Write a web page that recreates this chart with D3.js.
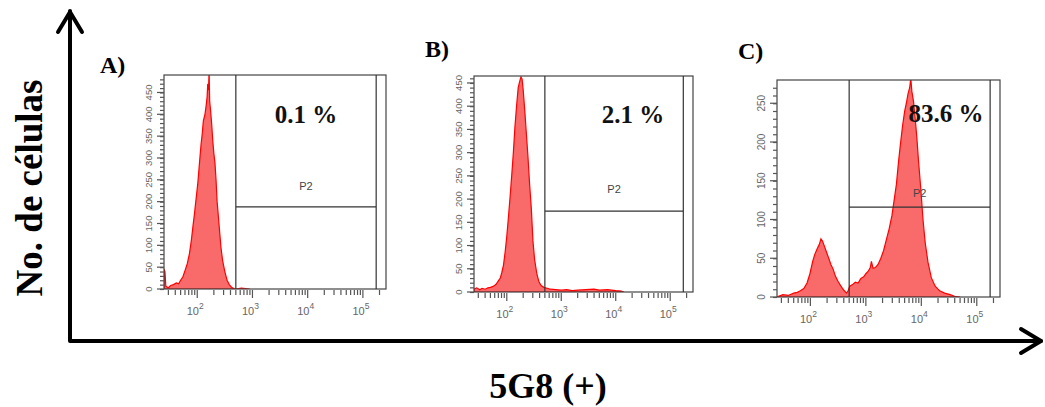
<!DOCTYPE html>
<html>
<head>
<meta charset="utf-8">
<script src="https://cdn.jsdelivr.net/npm/d3@7"></script>
<style>
	body { margin: 0; background: #fff; }
	svg { display: block; }
</style>
</head>
<body>
<div id="vizHolder"></div>
<script>

var	width = 1045,
		height = 407;

/* ----------- data ----------- */
var panelNames = ['A)', 'B)', 'C)'];
var percents   = ['0.1 %', '2.1 %', '83.6 %'];
var gateName   = 'P2';
var gateRange  = [500, 174000];          // P2 interval gate, fluorescence
var gateLevel  = [188, 174, 116];        // counts where the gate bar sits
var yMax       = [490, 465, 280];
var yLabelsAB  = [0, 50, 100, 150, 200, 250, 300, 350, 400, 450];
var yLabelsC   = [0, 50, 100, 150, 200, 250];
var xDomain    = [25, 262144];
var xDecades   = [100, 1000, 10000, 100000];

var intensityA = [25, 26, 27, 30, 33, 37, 42, 46, 50, 55, 60, 66, 72, 78, 83, 89, 95, 102, 110, 117,
	123, 129, 138, 145, 151, 155, 160, 164, 168, 174, 182, 191, 200, 209, 219, 229, 240, 251, 269, 288,
	316, 347, 380, 417, 457, 501, 631, 891];
var countsA    = [46, 40, 6, 3, 8, 10, 14, 12, 20, 28, 42, 58, 80, 110, 140, 172, 205, 240, 290, 330,
	355, 385, 400, 420, 440, 470, 455, 500, 430, 410, 380, 340, 310, 290, 250, 200, 170, 140, 95, 65,
	40, 20, 10, 4, 1, 0, 2, 0];

var intensityB = [25, 28, 32, 35, 40, 45, 50, 56, 63, 71, 76, 81, 87, 93, 100, 107, 115, 123, 132, 141,
	151, 162, 174, 182, 191, 200, 214, 229, 245, 263, 282, 302, 324, 355, 389, 427, 479, 550, 631, 794,
	1000, 1259, 1585, 1995, 2818, 3981, 5012, 7079, 10000, 12589, 14125];
var countsB    = [6, 9, 5, 8, 6, 9, 10, 12, 16, 25, 30, 42, 58, 85, 120, 160, 205, 250, 300, 355,
	400, 440, 455, 463, 458, 435, 390, 340, 290, 230, 180, 110, 70, 40, 22, 14, 10, 8, 6, 5,
	4, 5, 3, 4, 5, 6, 4, 5, 3, 2, 0];

var intensityC = [25, 32, 40, 50, 58, 66, 76, 87, 98, 110, 120, 132, 145, 155, 166, 178, 195, 214, 234, 257,
	282, 316, 355, 398, 447, 479, 513, 575, 646, 724, 813, 912, 1000, 1096, 1202, 1259, 1349, 1479, 1660, 1862,
	2089, 2344, 2630, 2951, 3236, 3548, 3890, 4169, 4571, 5012, 5370, 5754, 6166, 6457, 6761, 7244, 7762, 8318, 8913, 9772,
	10715, 11749, 13183, 15136, 17783, 21380, 26303, 33113, 39811, 50119];
var countsC    = [0, 3, 2, 5, 6, 8, 11, 18, 30, 46, 55, 62, 68, 75, 72, 66, 58, 50, 42, 36,
	27, 20, 14, 9, 5, 8, 14, 16, 19, 18, 24, 26, 30, 33, 38, 46, 37, 38, 42, 50,
	60, 74, 88, 105, 125, 145, 175, 195, 220, 240, 250, 262, 270, 282, 265, 252, 230, 205, 175, 140,
	100, 70, 45, 25, 14, 8, 5, 3, 1, 0];

/* ----------- layout ----------- */
var frames = [
	{x0: 164, x1: 386, y0: 75, y1: 289},
	{x0: 474, x1: 693, y0: 76, y1: 292},
	{x0: 777, x1: 1000, y0: 80, y1: 297}
];
var letterPos = [[100, 73], [425, 57], [738, 59]];
var pctPos    = [[306, 123], [633, 123], [946, 122]];
var p2Offset  = [17, 18, 10];

var panels = [
	{x: intensityA, y: countsA, yLabels: yLabelsAB},
	{x: intensityB, y: countsB, yLabels: yLabelsAB},
	{x: intensityC, y: countsC, yLabels: yLabelsC}
];

var svg = d3.select('#vizHolder')
				.append('svg')
				.attr('width', width)
				.attr('height', height);

var serif = '"Liberation Serif", "Times New Roman", serif',
		sans  = '"Liberation Sans", Arial, sans-serif';

/* ----------- big arrows ----------- */
var arrows = svg.append('g')
				.attr('fill', 'none')
				.attr('stroke', '#000')
				.attr('stroke-width', 4)
				.attr('stroke-linejoin', 'round')
				.attr('stroke-linecap', 'round');

arrows.append('path').attr('d', 'M70,11 L70,341 L1041,341');
arrows.append('path').attr('d', 'M58,32 L70,12 L82,32');
arrows.append('path').attr('d', 'M1021,329 L1041,341 L1021,353');

svg.append('text')
		.attr('transform', 'translate(42,188) rotate(-90)')
		.attr('text-anchor', 'middle')
		.attr('font-family', serif)
		.attr('font-weight', 'bold')
		.attr('font-size', 37)
		.text('No. de células');

svg.append('text')
		.attr('x', 548)
		.attr('y', 398)
		.attr('text-anchor', 'middle')
		.attr('font-family', serif)
		.attr('font-weight', 'bold')
		.attr('font-size', 36)
		.text('5G8 (+)');

/* ----------- panels ----------- */
panels.forEach(function(p, i){
	var f = frames[i];

	var x = d3.scaleLog().domain(xDomain).range([f.x0, f.x1]);
	var y = d3.scaleLinear().domain([0, yMax[i]]).range([f.y1, f.y0]);

	var g = svg.append('g').attr('class', 'panel');

	g.append('clipPath')
			.attr('id', 'clip' + i)
			.append('rect')
			.attr('x', f.x0)
			.attr('y', f.y0)
			.attr('width', f.x1 - f.x0)
			.attr('height', f.y1 - f.y0);

	var pts = p.x.map(function(d, k){ return [d, p.y[k]]; });

	var area = d3.area()
			.x(function(d){ return x(d[0]); })
			.y0(y(0))
			.y1(function(d){ return y(d[1]); });

	g.append('path')
			.datum(pts)
			.attr('clip-path', 'url(#clip' + i + ')')
			.attr('fill', '#f96a6a')
			.attr('stroke', '#ff0000')
			.attr('stroke-width', 1.2)
			.attr('d', area);

	// frame
	g.append('rect')
			.attr('x', f.x0)
			.attr('y', f.y0)
			.attr('width', f.x1 - f.x0)
			.attr('height', f.y1 - f.y0)
			.attr('fill', 'none')
			.attr('stroke', '#444')
			.attr('stroke-width', 1.2);

	// gate
	var gx0 = x(gateRange[0]), gx1 = x(gateRange[1]), gy = y(gateLevel[i]);
	g.append('path')
			.attr('d', 'M' + gx0 + ',' + f.y0 + 'V' + f.y1 + 'M' + gx1 + ',' + f.y0 + 'V' + f.y1 +
				'M' + gx0 + ',' + gy + 'H' + gx1)
			.attr('fill', 'none')
			.attr('stroke', '#333')
			.attr('stroke-width', 1.2);

	g.append('text')
			.attr('x', (gx0 + gx1) / 2)
			.attr('y', gy - p2Offset[i])
			.attr('text-anchor', 'middle')
			.attr('font-family', sans)
			.attr('font-size', 11)
			.attr('fill', '#444')
			.text(gateName);

	/* ----------- y axis ----------- */
	var yAxis = d3.axisLeft(y)
			.tickValues(d3.range(0, yMax[i], 10))
			.tickSize(4)
			.tickFormat('');
	g.append('g')
			.attr('transform', 'translate(' + f.x0 + ',0)')
			.call(yAxis)
			.call(function(s){
				s.select('.domain').remove();
				s.selectAll('line').attr('stroke', '#555').attr('stroke-width', 1.2);
			});

	var yl = g.append('g');
	yl.selectAll('line')
			.data(p.yLabels)
			.enter().append('line')
			.attr('x1', f.x0 - 7)
			.attr('x2', f.x0)
			.attr('y1', function(d){ return y(d); })
			.attr('y2', function(d){ return y(d); })
			.attr('stroke', '#555')
			.attr('stroke-width', 1.2);
	yl.selectAll('text')
			.data(p.yLabels)
			.enter().append('text')
			.attr('transform', function(d){ return 'translate(' + (f.x0 - 12) + ',' + y(d) + ') rotate(-90)'; })
			.attr('text-anchor', 'middle')
			.attr('font-family', sans)
			.attr('font-size', i == 2 ? 10 : 9.5)
			.attr('fill', '#666')
			.text(function(d){ return d; });

	/* ----------- x axis ----------- */
	var xt = x.ticks().filter(function(d){ return d >= 30; });
	g.append('g').selectAll('line')
			.data(xt)
			.enter().append('line')
			.attr('x1', function(d){ return x(d); })
			.attr('x2', function(d){ return x(d); })
			.attr('y1', f.y1 + 1)
			.attr('y2', function(d){ return f.y1 + (xDecades.indexOf(d) >= 0 ? 9 : 6); })
			.attr('stroke', '#555')
			.attr('stroke-width', 1.2);

	var xl = g.append('g').selectAll('text')
			.data(xDecades)
			.enter().append('text')
			.attr('x', function(d){ return x(d) - 2; })
			.attr('y', f.y1 + 26)
			.attr('text-anchor', 'middle')
			.attr('font-family', sans)
			.attr('font-size', 11)
			.attr('fill', '#666');
	xl.append('tspan').text('10');
	xl.append('tspan')
			.attr('dy', -6)
			.attr('font-size', 8.5)
			.text(function(d){ return Math.round(Math.log10(d)); });

	/* ----------- labels ----------- */
	svg.append('text')
			.attr('x', letterPos[i][0])
			.attr('y', letterPos[i][1])
			.attr('font-family', serif)
			.attr('font-weight', 'bold')
			.attr('font-size', 24)
			.text(panelNames[i]);

	svg.append('text')
			.attr('x', pctPos[i][0])
			.attr('y', pctPos[i][1])
			.attr('text-anchor', 'middle')
			.attr('font-family', serif)
			.attr('font-weight', 'bold')
			.attr('font-size', 25)
			.attr('fill', '#111')
			.text(percents[i]);
});

</script>
</body>
</html>
